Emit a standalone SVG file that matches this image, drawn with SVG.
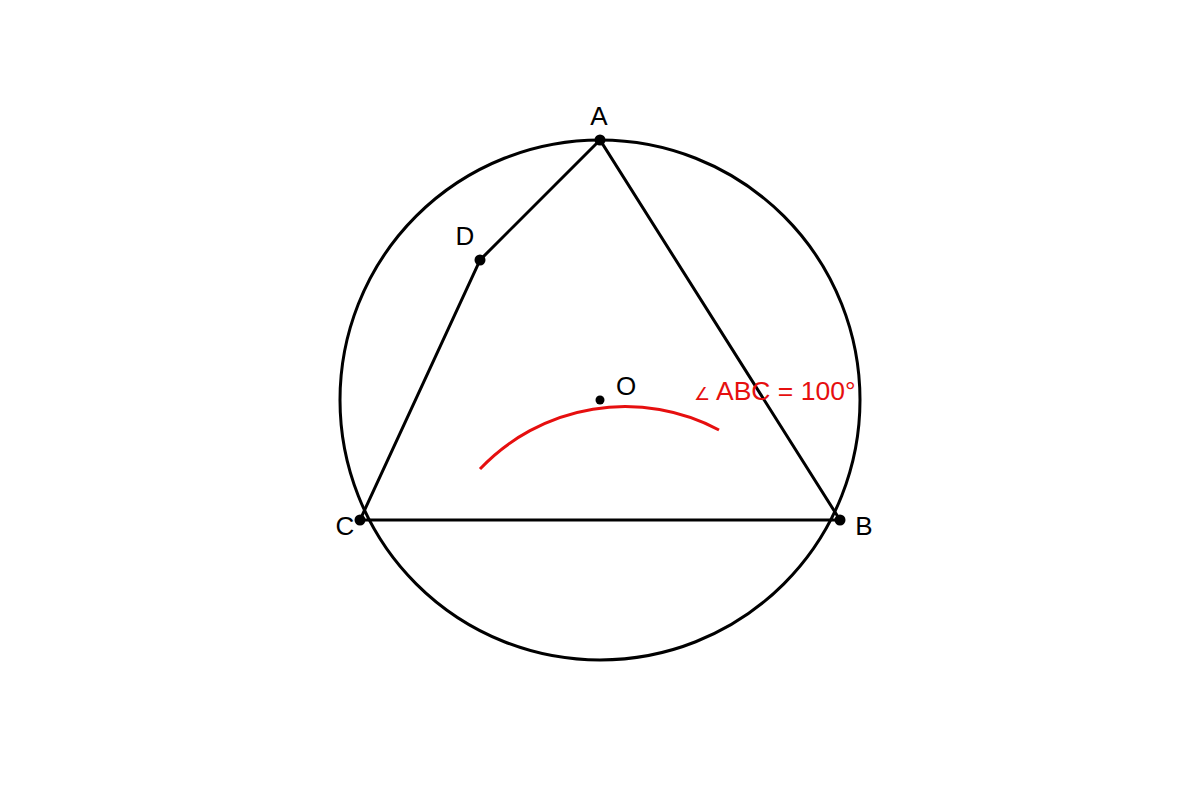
<svg xmlns="http://www.w3.org/2000/svg" width="1200" height="800" viewBox="0 0 1200 800">
<style>
.ln{fill:none;stroke:#000;stroke-width:3}
.pt{fill:#000}
.lb{font-family:"Liberation Sans",Arial,sans-serif;font-size:26px;fill:#000;text-anchor:middle}
.rd{font-family:"Liberation Sans",Arial,sans-serif;font-size:26.5px;fill:#e60f0f}
</style>
<rect width="1200" height="800" fill="#fff"/>
<g id="connectors">
<circle class="ln" cx="600" cy="400" r="260"/>
<path class="ln" d="M600 140 L480 260 L360 520 L840 520 Z"/>
<path d="M480 469 A200 200 0 0 1 719 430" fill="none" stroke="#e60f0f" stroke-width="3"/>
</g>
<g id="A"><circle class="pt" cx="600" cy="140" r="5.5"/><text class="lb" x="599" y="125">A</text></g>
<g id="B"><circle class="pt" cx="840" cy="520" r="5.5"/><text class="lb" x="864" y="535">B</text></g>
<g id="C"><circle class="pt" cx="360" cy="520" r="5.5"/><text class="lb" x="345" y="535">C</text></g>
<g id="D"><circle class="pt" cx="480" cy="260" r="5.5"/><text class="lb" x="465" y="245">D</text></g>
<g id="O"><circle class="pt" cx="600" cy="400" r="4.5"/><text class="lb" x="626" y="395">O</text></g>
<g id="angle-label"><text class="rd" x="694" y="400"><tspan font-size="18">∠</tspan><tspan x="716">ABC = 100°</tspan></text></g>
</svg>
